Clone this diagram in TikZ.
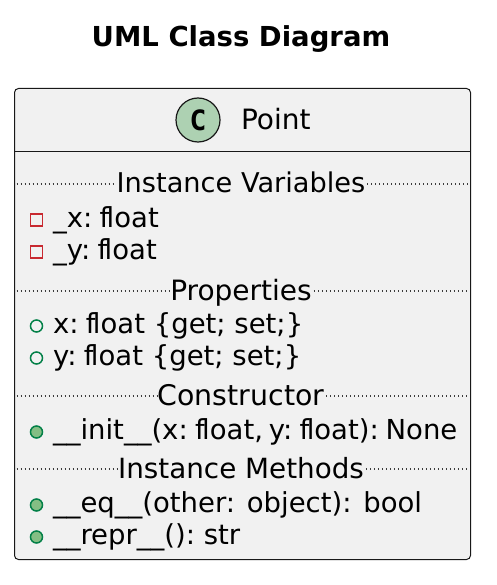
\documentclass[tikz,border=0pt]{standalone}
\usepackage{fontspec}
\setmainfont{DejaVu Sans}
\newfontfamily\iconfont{DejaVu Sans Mono}
\definecolor{boxfill}{HTML}{F1F1F1}
\definecolor{boxline}{HTML}{181818}
\definecolor{iconfill}{HTML}{ADD1B2}
\definecolor{privline}{HTML}{C82930}
\definecolor{publine}{HTML}{038048}
\definecolor{pubfill}{HTML}{84BE84}
\newcommand{\flt}{\kern-1.5pt f\kern-2.5pt loat}
\frenchspacing
\begin{document}
\begin{tikzpicture}[x=1pt, y=-1pt,
  every node/.style = {inner sep=0pt, outer sep=0pt, text=black},
  classbox/.style = {draw=boxline, fill=boxfill, line width=1pt, rounded corners=4pt},
  member/.style = {anchor=base west, font=\fontsize{27.5}{30}\selectfont},
  section/.style = {anchor=base, font=\fontsize{#1}{30}\selectfont},
  sepline/.style = {draw=boxline!85, line width=1.1pt, dash pattern=on 1.1pt off 2.9pt},
  privicon/.style = {draw=privline, line width=1.3pt, minimum size=12pt},
  propicon/.style = {circle, draw=publine, line width=1.5pt, minimum size=12pt},
  methicon/.style = {propicon, fill=pubfill}]
  \useasboundingbox (0,0) rectangle (496,585);
  \node[anchor=base, font=\fontsize{27.5}{30}\selectfont\bfseries] (title) at (241,47) {UML Class Diagram};
  \node[classbox, minimum width=456pt, minimum height=471pt] (point) at (242.5,324) {};
  \draw[draw=boxline, line width=1pt] (point.west |- 0,152) -- (point.east |- 0,152);
  \node[circle, draw=boxline, fill=iconfill, line width=1.2pt, minimum size=44pt,
    font=\iconfont\fontsize{28}{30}\selectfont\bfseries] (icon) at (198,120) {C};
  \node[anchor=base west, font=\fontsize{28}{30}\selectfont] (name) at (241,130) {Point};
  % section titles and their dotted lines
  \foreach \sname/\ypos/\ssize/\stext in {vars/193/27.2/Instance Variables, props/300/28/Properties,
      ctor/405/28.4/Constructor, meths/478/27.8/Instance Methods} {
    \node[section=\ssize] (\sname) at (241,\ypos) {\stext};
    \draw[sepline] ([xshift=2pt]point.west |- 0,\ypos-9) -- ([xshift=-1pt]\sname.west |- 0,\ypos-9);
    \draw[sepline] ([xshift=2pt]\sname.east |- 0,\ypos-9) -- ([xshift=-3pt]point.east |- 0,\ypos-9);
  }
  % members
  \foreach \mname/\mstyle/\ypos/\mtext in {
      mx/privicon/227/{\_x: \flt}, my/privicon/259/{\_y: \flt},
      px/propicon/333/{x: \flt\ \{get; set;\}}, py/propicon/365/{y: \flt\ \{get; set;\}},
      init/methicon/439/{\_\_init\_\_(x: \flt,\kern-3pt\ y: \flt):\kern-2pt\ None},
      eq/methicon/512/{\_\_eq\_\_(other:\kern3pt\ object):\kern3pt\ bool},
      repr/methicon/544/{\_\_repr\_\_(): str}} {
    \node[member] (\mname) at (53,\ypos) {\mtext};
    \node[\mstyle] (\mname icon) at (36.5,\ypos-7) {};
  }
\end{tikzpicture}
\end{document}
